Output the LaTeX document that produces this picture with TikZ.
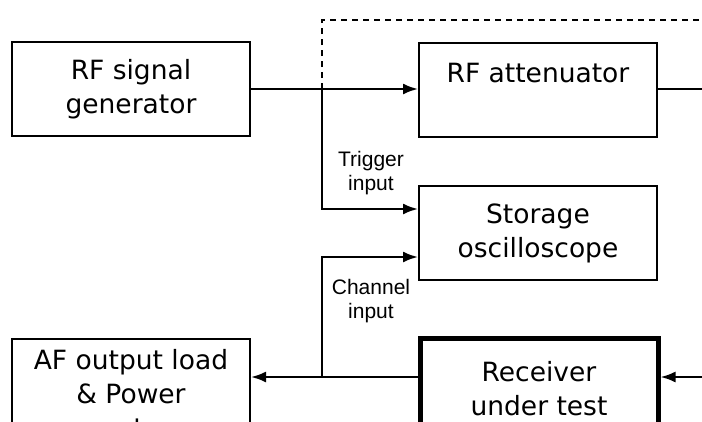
\documentclass[tikz,border=0pt]{standalone}
\usepackage{fontspec}
\setmainfont{DejaVu Sans}
\newfontfamily\lblfont{Liberation Sans}
\usetikzlibrary{arrows.meta}

\begin{document}
\begin{tikzpicture}[
  x=1pt,y=1pt,
  font=\fontsize{26.5}{34}\selectfont,
  blk/.style={draw=black,line width=2pt,minimum width=238pt,minimum height=94pt,inner sep=0pt,align=center},
  blkheavy/.style={blk,line width=5pt},
  wire/.style={draw=black,line width=2.2pt},
  feed/.style={wire,-{Latex[length=15pt,width=11pt]}},
  ghost/.style={draw=black,line width=2pt,dash pattern=on 6pt off 5pt},
  lbl/.style={font=\lblfont\fontsize{21}{24}\selectfont,align=center,inner sep=0pt},
]
\useasboundingbox (0,0) rectangle (702,-421);
\clip (0,0) rectangle (702,-421);

\node[blk] (gen) at (131,-89) {RF signal\\generator};
\node[blk] (att) at (538,-89.5) {RF attenuator\\\mbox{}};
\node[blk] (osc) at (538,-233) {Storage\\oscilloscope};
\node[blk,minimum height=110pt] (af) at (131,-394) {AF output load\\\& Power\\meter};
\node[blkheavy,minimum height=101pt] (rx) at (539,-389) {Receiver\\under test};

\coordinate (tap) at (322,-89);
\coordinate (chtap) at (322,-377);
\coordinate (loop) at (322,-20);
\coordinate (loopend) at (720,-20);
\coordinate (attout) at (720,-89);
\coordinate (rxin) at (720,-377);

\draw[feed] (gen.east |- tap) -- (att.west |- tap);
\draw[wire] (att.east |- tap) -- (attout);
\draw[ghost] (tap) -- (loop) -- (loopend);
\draw[feed] (tap) |- ([yshift=24pt]osc.west);
\draw[feed] (chtap) |- ([yshift=-24pt]osc.west);
\draw[feed] (rx.west |- chtap) -- (af.east |- chtap);
\draw[feed] (rxin) -- (rx.east |- rxin);

\node[lbl] (trig) at (371,-173) {Trigger\\input};
\node[lbl] (chan) at (371,-301) {Channel\\input};
\end{tikzpicture}
\end{document}
